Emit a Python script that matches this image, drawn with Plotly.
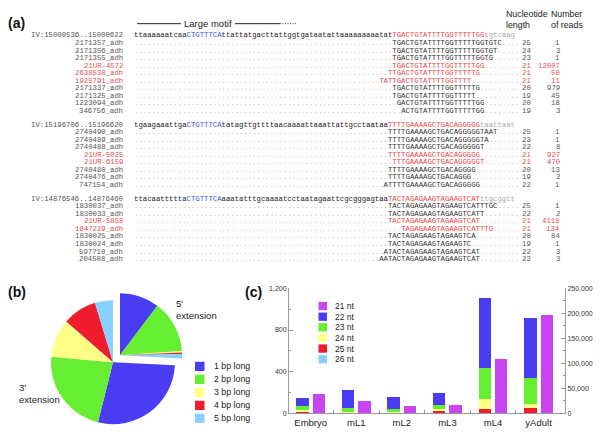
import plotly.graph_objects as go

W, H = 600, 436
def X(px): return px / W
def Y(py): return 1 - py / H

# ---------------- Panel (a) data ----------------
block_headers = ["IV:15000536..15000622", "IV:15196706..15196620", "IV:14876546..14876460"]
block_genomic = [
    [("ttaaaaaatcaa", "g"), ("CTGTTTCA", "m"), ("ttattatgacttattggtgataatattaaaaaaaaatat", "g"),
     ("TGACTGTATTTTGGTTTTTGG", "r"), ("tgtcaag", "t")],
    [("tgaagaaattga", "g"), ("CTGTTTCA", "m"), ("tatagttgttttaacaaaattaaattattgcctaataa", "g"),
     ("TTTTGAAAAGCTGACAGGGGG", "r"), ("taattaat", "t")],
    [("ttacaattttta", "g"), ("CTGTTTCA", "m"), ("aaatatttgcaaaatcctaatagaattcgcgggagtaa", "g"),
     ("TACTAGAGAAGTAGAAGTCAT", "r"), ("ttgcggtt", "t")],
]
block1_names = ["2171357_adh", "2171356_adh", "2171355_adh", "21UR-4572", "2638530_adh", "1925791_adh",
                "2171337_adh", "2171325_adh", "1223094_adh", "346756_adh"]
block1_reads = ["TGACTGTATTTTGGTTTTTGGTGTC", "TGACTGTATTTTGGTTTTTGGTGT", "TGACTGTATTTTGGTTTTTGGTG",
                "TGACTGTATTTTGGTTTTTGG", "TTGACTGTATTTTGGTTTTTG", "TATTGACTGTATTTTGGTTTT",
                "TGACTGTATTTTGGTTTTTG", "TGACTGTATTTTGGTTTTT", "GACTGTATTTTGGTTTTTGG", "ACTGTATTTTGGTTTTTGG"]
block1_start = [59, 59, 59, 59, 58, 56, 59, 59, 60, 61]
block1_len = [25, 24, 23, 21, 21, 21, 20, 19, 20, 19]
block1_count = [1, 3, 1, 12007, 50, 11, 979, 45, 18, 3]
block1_red = [False, False, False, True, True, True, False, False, False, False]

block2_names = ["2740490_adh", "2740489_adh", "2740488_adh", "21UR-5025", "21UR-6159",
                "2740480_adh", "2740476_adh", "747154_adh"]
block2_reads = ["TTTTGAAAAGCTGACAGGGGGTAAT", "TTTTGAAAAGCTGACAGGGGGTA", "TTTTGAAAAGCTGACAGGGGGT",
                "TTTTGAAAAGCTGACAGGGGG", "TTTGAAAAGCTGACAGGGGGT", "TTTTGAAAAGCTGACAGGGG",
                "TTTTGAAAAGCTGACAGGG", "ATTTTGAAAAGCTGACAGGGGG"]
block2_start = [58, 58, 58, 58, 59, 58, 58, 57]
block2_len = [25, 23, 22, 21, 21, 20, 19, 22]
block2_count = [1, 1, 8, 927, 470, 13, 2, 1]
block2_red = [False, False, False, True, True, False, False, False]

block3_names = ["1830037_adh", "1830033_adh", "21UR-5858", "1847229_adh", "1830025_adh",
                "1830024_adh", "597710_adh", "204508_adh"]
block3_reads = ["TACTAGAGAAGTAGAAGTCATTTGC", "TACTAGAGAAGTAGAAGTCATT", "TACTAGAGAAGTAGAAGTCAT",
                "TAGAGAAGTAGAAGTCATTTG", "TACTAGAGAAGTAGAAGTCA", "TACTAGAGAAGTAGAAGTC",
                "ATACTAGAGAAGTAGAAGTCAT", "AATACTAGAGAAGTAGAAGTCAT"]
block3_start = [58, 58, 58, 61, 58, 58, 57, 56]
block3_len = [25, 22, 21, 21, 20, 19, 22, 23]
block3_count = [1, 2, 4118, 134, 84, 1, 3, 3]
block3_red = [False, False, True, True, False, False, False, False]

# ---------------- Panel (b) data ----------------
ext_labels = ["1 bp long", "2 bp long", "3 bp long", "4 bp long", "5 bp long"]
five_prime = [10.3, 13.6, 0.4, 0.4, 1.1]
three_prime = [28.1, 22.5, 10.0, 8.9, 4.7]

# ---------------- Panel (c) data ----------------
stages = ["Embryo", "mL1", "mL2", "mL3", "mL4", "yAdult"]
nt21 = [37900, 25600, 13750, 17100, 109000, 197000]   # right axis
nt22 = [78, 174, 120, 108, 677, 574]                    # left axis
nt23 = [37, 40, 32, 43, 293, 252]
nt24 = [16, 4, 4, 12, 101, 38]
nt25 = [14, 4, 3, 24, 37, 46]
nt26 = [3, 2, 2, 4, 4, 4]
nt_names = ["21 nt", "22 nt", "23 nt", "24 nt", "25 nt", "26 nt"]

C_PURPLE = "#c845f0"
C_BLUE = "#4a3cf2"
C_GREEN = "#66ee33"
C_YELLOW = "#ffff88"
C_RED = "#ee1c2e"
C_CYAN = "#88d0ff"
ext_colors = [C_BLUE, C_GREEN, C_YELLOW, C_RED, C_CYAN]
nt_colors = [C_PURPLE, C_BLUE, C_GREEN, C_YELLOW, C_RED, C_CYAN]

MONO = "Liberation Mono"
SANS = "Liberation Sans"
FS = 7.3
SEQ_X = 133
LEN_X = 521
CNT_X = 561
LAB_X = 124
SEQ_W = 88

fig = go.Figure()
ann = []
shapes = []

kind_color = {"g": "#222222", "m": "#3a55e0", "r": "#e84848", "t": "#aaaaaa"}

def add_text(x, y, text, anchor, color, size=FS, family=MONO, align="left"):
    ann.append(dict(x=X(x), y=Y(y), xref="paper", yref="paper", text=text, showarrow=False,
                    xanchor=anchor, yanchor="middle", align=align,
                    font=dict(family=family, size=size, color=color), borderpad=0))

blocks = [
    (block1_names, block1_reads, block1_start, block1_len, block1_count, block1_red),
    (block2_names, block2_reads, block2_start, block2_len, block2_count, block2_red),
    (block3_names, block3_reads, block3_start, block3_len, block3_count, block3_red),
]
block_y = [32, 122.5, 198]
PITCH = 7.65

for bi, (names, reads, starts, lens, counts, reds) in enumerate(blocks):
    y0 = block_y[bi]
    add_text(LAB_X, y0, block_headers[bi], "right", "#555555")
    seq = "".join(f"<span style='color:{kind_color[k]}'>{s}</span>" for s, k in block_genomic[bi])
    add_text(SEQ_X, y0, seq, "left", "#222222")
    for ri in range(len(names)):
        y = y0 + PITCH * (ri + 1)
        red = reds[ri]
        lab_c = "#e05050" if red else "#555555"
        dot_c = "#f0a8a8" if red else "#b8b8b8"
        seq_c = "#e84848" if red else "#333333"
        pre = "." * starts[ri]
        post = "." * (SEQ_W - starts[ri] - len(reads[ri]))
        txt = (f"<span style='color:{dot_c}'>{pre}</span><span style='color:{seq_c}'>{reads[ri]}</span>"
               f"<span style='color:{dot_c}'>{post}</span>")
        add_text(LAB_X, y, names[ri], "right", lab_c)
        add_text(SEQ_X, y, txt, "left", seq_c)
        add_text(LEN_X, y, str(lens[ri]), "left", lab_c)
        add_text(CNT_X, y, str(counts[ri]), "right", lab_c)

# Headers panel (a)
add_text(7, 19, "<b>(a)</b>", "left", "#111111", size=14, family=SANS)
add_text(208, 20, "Large motif", "center", "#222222", size=9.5, family=SANS)
add_text(505, 16, "Nucleotide<br>length", "left", "#222222", size=8.8, family=SANS)
add_text(550, 16, "Number<br>of reads", "left", "#222222", size=8.8, family=SANS)
shapes.append(dict(type="line", xref="paper", yref="paper", x0=X(137), x1=X(181), y0=Y(20), y1=Y(20),
                   line=dict(color="#222", width=1)))
shapes.append(dict(type="line", xref="paper", yref="paper", x0=X(235), x1=X(280), y0=Y(20), y1=Y(20),
                   line=dict(color="#222", width=1)))
shapes.append(dict(type="line", xref="paper", yref="paper", x0=X(280), x1=X(297), y0=Y(20), y1=Y(20),
                   line=dict(color="#444", width=1, dash="1px,1.5px")))

# ---------------- Panel (b) pies ----------------
TRANSP = "rgba(0,0,0,0)"
fig.add_trace(go.Pie(values=[sum(five_prime)] + three_prime, labels=["5p"] + [l + " 3p" for l in ext_labels],
                     marker=dict(colors=[TRANSP] + ext_colors, line=dict(width=0)),
                     domain=dict(x=[X(50), X(176)], y=[Y(427), Y(301)]),
                     sort=False, direction="clockwise", rotation=0, textinfo="none",
                     hoverinfo="skip", showlegend=False))
fig.add_trace(go.Pie(values=five_prime + [sum(three_prime)], labels=[l + " 5p" for l in ext_labels] + ["3p"],
                     marker=dict(colors=ext_colors + [TRANSP], line=dict(width=0)),
                     domain=dict(x=[X(57), X(183)], y=[Y(420), Y(294)]),
                     sort=False, direction="clockwise", rotation=0, textinfo="none",
                     hoverinfo="skip", showlegend=False))

add_text(7, 293, "<b>(b)</b>", "left", "#111111", size=14, family=SANS)
add_text(175, 310, "5'<br>extension", "left", "#222222", size=9.5, family=SANS)
add_text(18, 396, "3'<br>extension", "left", "#222222", size=9.5, family=SANS)
for i, lab in enumerate(ext_labels):
    yc = 368.3 + i * 13.2
    shapes.append(dict(type="rect", xref="paper", yref="paper", x0=X(195), x1=X(204.5),
                       y0=Y(yc + 4.7), y1=Y(yc - 4.7), fillcolor=ext_colors[i], line=dict(width=0)))
    add_text(212.5, yc, lab, "left", "#222222", size=8.8, family=SANS)

# ---------------- Panel (c) bars ----------------
xi = list(range(len(stages)))
stack = [(nt26, C_CYAN), (nt25, C_RED), (nt24, C_YELLOW), (nt23, C_GREEN), (nt22, C_BLUE)]
for vals, col in stack:
    fig.add_trace(go.Bar(x=xi, y=vals, marker=dict(color=col, line=dict(width=0)), width=0.27, offset=-0.315,
                         xaxis="x", yaxis="y", showlegend=False, hoverinfo="skip"))
fig.add_trace(go.Bar(x=xi, y=nt21, marker=dict(color=C_PURPLE, line=dict(width=0)), width=0.27, offset=0.045,
                     xaxis="x", yaxis="y2", showlegend=False, hoverinfo="skip"))

add_text(244, 293, "<b>(c)</b>", "left", "#111111", size=14, family=SANS)
for i, lab in enumerate(nt_names):
    yc = 307 + i * 10.8
    shapes.append(dict(type="rect", xref="paper", yref="paper", x0=X(318.5), x1=X(327),
                       y0=Y(yc + 4.2), y1=Y(yc - 4.2), fillcolor=nt_colors[i], line=dict(width=0)))
    add_text(334, yc, lab, "left", "#222222", size=8.5, family=SANS)

AX = "#999999"
fig.update_layout(
    width=W, height=H, margin=dict(l=0, r=0, t=0, b=0),
    paper_bgcolor="white", plot_bgcolor="rgba(0,0,0,0)",
    barmode="stack", annotations=ann, shapes=shapes,
    xaxis=dict(domain=[X(289), X(565)], anchor="y", range=[-0.476, 5.58], tickmode="array",
               tickvals=xi, ticktext=stages, ticks="", showline=True, linecolor=AX, linewidth=1,
               showgrid=False, zeroline=False, tickfont=dict(family=SANS, size=9.5, color="#222"),
               minor=dict(tickmode="array", tickvals=[v + 0.5 for v in xi[:-1]], ticks="inside",
                          ticklen=3, tickcolor=AX)),
    yaxis=dict(domain=[Y(416), Y(289)], anchor="x", range=[0, 1200], tickmode="array",
               tickvals=[0, 400, 800, 1200], tickformat=",d", ticks="inside", ticklen=4, tickcolor=AX,
               showline=True, linecolor=AX, showgrid=False, zeroline=False,
               tickfont=dict(family=SANS, size=7, color="#333"),
               minor=dict(tickmode="linear", tick0=0, dtick=200, ticks="inside", ticklen=2, tickcolor=AX)),
    yaxis2=dict(overlaying="y", side="right", anchor="x", range=[0, 250000], tickmode="linear",
                tick0=0, dtick=50000, tickformat=",d", ticks="inside", ticklen=4, tickcolor=AX,
                showline=True, linecolor=AX, showgrid=False, zeroline=False,
                tickfont=dict(family=SANS, size=7, color="#333"),
                minor=dict(tickmode="linear", tick0=0, dtick=25000, ticks="inside", ticklen=2, tickcolor=AX)),
)

fig.write_html("out.html", config={"displayModeBar": False},
               post_script="document.body.style.margin='0';document.body.style.overflow='hidden';")
